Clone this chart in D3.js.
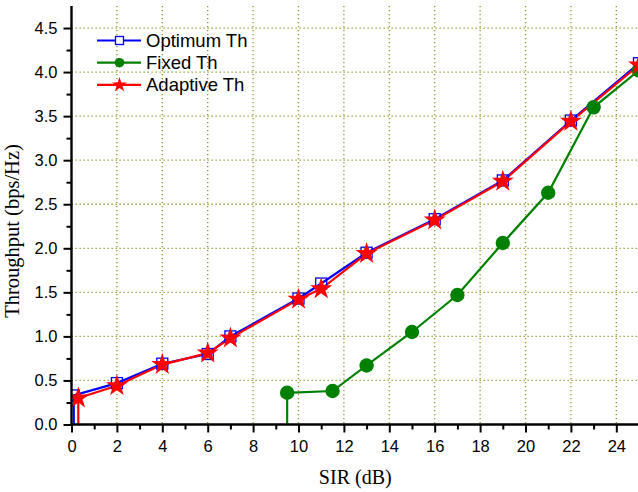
<!DOCTYPE html>
<html>
<head>
<meta charset="utf-8">
<script src="https://cdn.jsdelivr.net/npm/d3@7"></script>
<style>
  body { margin: 0; background: #fff; }
  svg { display: block; }
</style>
</head>
<body>
<svg id="chart" width="638" height="492"></svg>
<script>
// series data
var optimumX  = [0.1, 0.1, 2, 4, 6, 7, 10, 11, 13, 16, 19, 22, 25];
var optimumY  = [0, 0.33, 0.47, 0.69, 0.80, 1.00, 1.43, 1.60, 1.95, 2.33, 2.77, 3.45, 4.10];
var fixedX    = [9.5, 9.5, 11.5, 13, 15, 17, 19, 21, 23, 25];
var fixedY    = [0, 0.36, 0.38, 0.67, 1.05, 1.47, 2.06, 2.63, 3.60, 4.02];
var adaptiveX = [0.3, 0.3, 2, 4, 6, 7, 10, 11, 13, 16, 19, 22, 25];
var adaptiveY = [0, 0.30, 0.44, 0.68, 0.81, 0.98, 1.42, 1.54, 1.94, 2.32, 2.76, 3.44, 4.08];

var xTicks = [0, 2, 4, 6, 8, 10, 12, 14, 16, 18, 20, 22, 24];
var yTicks = [0, 0.5, 1, 1.5, 2, 2.5, 3, 3.5, 4, 4.5];
var legendNames = ["Optimum Th", "Fixed Th", "Adaptive Th"];

var svg = d3.select("#chart");
var pLeft = 71.5, pRight = 639, pTop = 6, pBottom = 424.5;

var x = d3.scaleLinear().domain([0, 25]).range([pLeft, pRight]);
var y = d3.scaleLinear().domain([0, 4.75]).range([pBottom, pTop]);

var gridColor = "#94942a";

// grid
svg.append("g").selectAll("line").data(xTicks.filter(function(d){ return d > 0; }))
  .enter().append("line")
  .attr("x1", function(d){ return x(d); }).attr("x2", function(d){ return x(d); })
  .attr("y1", pTop).attr("y2", pBottom)
  .attr("stroke", gridColor).attr("stroke-width", 1.3).attr("stroke-dasharray", "1.3,2.7");
svg.append("g").selectAll("line").data(yTicks.filter(function(d){ return d > 0; }))
  .enter().append("line")
  .attr("x1", pLeft).attr("x2", pRight)
  .attr("y1", function(d){ return y(d); }).attr("y2", function(d){ return y(d); })
  .attr("stroke", gridColor).attr("stroke-width", 1.3).attr("stroke-dasharray", "1.3,2.7");

// clip
svg.append("clipPath").attr("id", "plotclip").append("rect")
  .attr("x", pLeft).attr("y", pTop).attr("width", 638 - pLeft).attr("height", pBottom - pTop);

var plot = svg.append("g").attr("clip-path", "url(#plotclip)");

var series = [
  { name: legendNames[0], xs: optimumX, ys: optimumY, color: "#0000ff", marker: "square" },
  { name: legendNames[1], xs: fixedX, ys: fixedY, color: "#008000", marker: "circle" },
  { name: legendNames[2], xs: adaptiveX, ys: adaptiveY, color: "#ff0000", marker: "star" }
];

var line = d3.line().x(function(d){ return x(d[0]); }).y(function(d){ return y(d[1]); });

function drawMarker(g, type, color, cx, cy, big) {
  if (type === "square") {
    var s = big ? 11 : 8;
    g.append("rect").attr("x", cx - s/2).attr("y", cy - s/2).attr("width", s).attr("height", s)
      .attr("fill", "none").attr("stroke", color).attr("stroke-width", 1.3);
  } else if (type === "circle") {
    g.append("circle").attr("cx", cx).attr("cy", cy).attr("r", big ? 7.2 : 4.8).attr("fill", color);
  } else {
    g.append("path").attr("transform", "translate(" + cx + "," + cy + ")")
      .attr("d", d3.symbol().type(d3.symbolStar).size(big ? 150 : 70)())
      .attr("fill", color);
  }
}

series.forEach(function(s) {
  var pts = s.xs.map(function(v, i){ return [v, s.ys[i]]; });
  plot.append("path").datum(pts).attr("d", line)
    .attr("fill", "none").attr("stroke", s.color).attr("stroke-width", 2.2);
});
series.forEach(function(s) {
  s.xs.forEach(function(v, i) {
    if (s.ys[i] > 0) drawMarker(plot, s.marker, s.color, x(v), y(s.ys[i]), true);
  });
});

// axes
var xAxis = svg.append("g").attr("transform", "translate(0," + pBottom + ")")
  .call(d3.axisBottom(x).tickValues(xTicks).tickSize(8).tickPadding(8).tickFormat(d3.format("d")));
var xMinor = svg.append("g").attr("transform", "translate(0," + pBottom + ")")
  .call(d3.axisBottom(x).tickValues(d3.range(1, 25, 2)).tickSize(5).tickFormat(""));
var yAxis = svg.append("g").attr("transform", "translate(" + pLeft + ",0)")
  .call(d3.axisLeft(y).tickValues(yTicks).tickSize(8).tickPadding(6).tickFormat(d3.format(".1f")));
var yMinor = svg.append("g").attr("transform", "translate(" + pLeft + ",0)")
  .call(d3.axisLeft(y).tickValues(d3.range(0.25, 4.75, 0.5)).tickSize(5).tickFormat(""));

[xAxis, xMinor, yAxis, yMinor].forEach(function(a) {
  a.select(".domain").remove();
  a.selectAll(".tick line").attr("stroke", "#000").attr("stroke-width", 2);
  a.selectAll("text").attr("fill", "#000")
    .style("font-family", "'Liberation Sans', Arial, sans-serif").style("font-size", "16.5px");
});
svg.append("line").attr("x1", pLeft).attr("x2", 638).attr("y1", pBottom).attr("y2", pBottom)
  .attr("stroke", "#000").attr("stroke-width", 2.4);
svg.append("line").attr("x1", pLeft).attr("x2", pLeft).attr("y1", pTop).attr("y2", pBottom + 1)
  .attr("stroke", "#000").attr("stroke-width", 2.4);

// axis titles
svg.append("text").attr("x", (pLeft + pRight) / 2).attr("y", 484)
  .attr("text-anchor", "middle")
  .style("font-family", "'Liberation Serif', 'Times New Roman', serif").style("font-size", "20px")
  .text("SIR (dB)");
svg.append("text").attr("transform", "translate(19," + 231 + ") rotate(-90)")
  .attr("text-anchor", "middle")
  .style("font-family", "'Liberation Serif', 'Times New Roman', serif").style("font-size", "20.5px")
  .text("Throughput (bps/Hz)");

// legend
var legend = svg.append("g");
series.forEach(function(s, i) {
  var ly = 40.5 + i * 22.2;
  legend.append("line").attr("x1", 97).attr("x2", 141).attr("y1", ly).attr("y2", ly)
    .attr("stroke", s.color).attr("stroke-width", 2.2);
  if (s.marker === "square") {
    legend.append("rect").attr("x", 115.5).attr("y", ly - 4).attr("width", 8).attr("height", 8)
      .attr("fill", "#fff");
  }
  drawMarker(legend, s.marker, s.color, 119.5, ly, false);
  legend.append("text").attr("x", 146).attr("y", ly + 6.5)
    .style("font-family", "'Liberation Sans', Arial, sans-serif").style("font-size", "18.5px")
    .text(s.name);
});
</script>
</body>
</html>
